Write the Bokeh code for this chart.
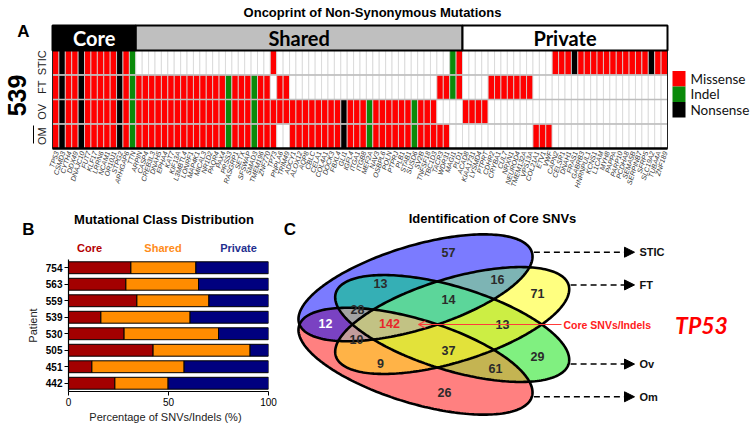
import numpy as np
from bokeh.plotting import figure
from bokeh.models import (Range1d, FactorRange, Arrow, NormalHead, OpenHead,
                          FixedTicker, ColumnDataSource)
from bokeh.layouts import column, row
from bokeh.core.properties import value
from bokeh.embed import file_html
from bokeh.resources import INLINE

# ---------------- data: panel A (oncoprint, patient 539) ----------------
core_genes = ["TP53", "CSMD3", "CYTH4", "DDX49", "DNAJC10", "FUT7", "KLF17", "LRRN6",
              "NCAM1", "OR10J1", "STPG2", "ARHGAP6", "TTN"]
shared_genes = ["ARPIN", "CASP4", "CREB3L3", "DNAH5", "EPHA4", "KAT7", "KIF13A", "L3MBTL4",
                "LONRF1", "MAP4K1", "MICAL3", "NR1D2", "PAQR4", "PAX4", "PRSS3", "RASGRP1",
                "SETX", "SFSWAP", "SMAD3", "TMEM196", "ZNF770", "TP73", "PNPLA6", "TRIM49",
                "ADCY1", "ALOX12", "AQP8", "CBLC", "CELA1", "COL4A1", "DOCK3", "FBXL4",
                "GLI1", "IGFL4", "ITGA1", "ITGB8", "MEF2A", "NAV3", "OSBPL6", "POLN",
                "PTPRJ", "PLB1", "STAB1", "SUSD6", "SV2B", "TNFSF18", "TBC1D3", "TACR3",
                "WDR31", "MAGI1", "PLD1"]
private_genes = ["ACAD8", "KIAA1731", "LYSMD4", "PTPRT", "CDHR2", "CRYBA1", "CUL7", "NRXN1",
                 "NEUROD4", "TMEM132A", "VPS13A", "COL21A1", "ETV1", "VWF", "CAPN2", "CELSR1",
                 "DNAH1", "FRAS1", "GABRB3", "HNRNPUL1", "KCNS1", "L1CAM", "MYH8", "PAPPA",
                 "PARP10", "PCDHA8", "SEMA5B", "SERPINB7", "SFRP5", "SLC19A2", "TUBA4A", "ZNF189"]
genes = core_genes + shared_genes + private_genes
class_names = ["Core", "Shared", "Private"]
class_sizes = [len(core_genes), len(shared_genes), len(private_genes)]

samples = ["STIC", "FT", "OV", "OM"]
# M = missense, I = indel, N = nonsense, . = none
core_calls = "MNMMNMMMMMNMI"
calls = {
    "STIC": core_calls + "." * 21 + "M" + "." * 27 + "IM"
            + "." * 14 + "MMMNMMMMMMMMMMMNMM",
    "FT": core_calls + "M" * 14 + "I" + "MMM" + "I" + "MM" + "." + "MM" + "." * 23 + "MM" + "I" + "M"
          + "...." + "M" * 7 + "." * 21,
    "OV": core_calls + "M" * 14 + "I" + "MMM" + "I" + "M" * 13 + "N" + "MMM" + "I" + "M" * 6 + "I" + "MMM" + "...."
          + "MMMM" + "." * 28,
    "OM": core_calls + "M" * 14 + "I" + "MMM" + "I" + "MMM" + ".." + "M" * 8 + "N" + "MMM" + "I" + "M" * 6 + "I" + "M" * 5 + ".."
          + "." * 11 + "MMM" + "." * 18,
}
for s in samples:
    assert len(calls[s]) == len(genes), (s, len(calls[s]))
mut_types = ["Missense", "Indel", "Nonsense"]
mut_codes = {"M": "#FF0000", "I": "#0A8A0A", "N": "#000000", ".": "#FFFFFF"}

# ---------------- data: panel B ----------------
patients = ["754", "563", "559", "539", "530", "505", "451", "442"]
core_pct = [31.2, 28.7, 34.2, 16.2, 27.8, 42.3, 11.7, 23.2]
shared_pct = [32.5, 36.3, 36.0, 44.6, 47.2, 48.5, 46.1, 26.6]
private_pct = [100 - c - s for c, s in zip(core_pct, shared_pct)]

# ---------------- data: panel C (Venn) ----------------
venn_sets = ["STIC", "FT", "Ov", "Om"]
venn_counts = {
    (1, 0, 0, 0): 57, (0, 1, 0, 0): 71, (0, 0, 1, 0): 29, (0, 0, 0, 1): 26,
    (1, 1, 0, 0): 16, (1, 0, 1, 0): 13, (1, 0, 0, 1): 12, (0, 1, 1, 0): 13,
    (0, 1, 0, 1): 9, (0, 0, 1, 1): 61, (1, 1, 1, 0): 14, (1, 1, 0, 1): 10,
    (1, 0, 1, 1): 28, (0, 1, 1, 1): 37, (1, 1, 1, 1): 142,
}

ARIAL = value("Liberation Sans")
CALIBRI = value("Lato")

# =============== Panel A figure (page y 0..200) ===============
W = 754
TOP_H = 200
w_col = 615 / len(genes)
row_h = 24.5


def px(xp):
    return (xp - 52) / w_col


def py(yp):
    return 4 - (yp - 50) / row_h


pt = figure(width=W, height=TOP_H, x_range=Range1d(px(0), px(W)), y_range=Range1d(py(TOP_H), py(0)),
            output_backend="svg", toolbar_location=None, min_border=0,
            x_axis_location=None, y_axis_location=None)
pt.grid.visible = False
pt.outline_line_color = None

cx, cy, cc = [], [], []
for r, s in enumerate(samples):
    for i, code in enumerate(calls[s]):
        cx.append(i + 0.5)
        cy.append(len(samples) - r - 0.5)
        cc.append(mut_codes[code])
pt.rect(x=cx, y=cy, width=1, height=1, fill_color=cc, line_color="#D6D6D6", line_width=0.8)
n = len(genes)
pt.segment(x0=[0] * 3, y0=[1, 2, 3], x1=[n] * 3, y1=[1, 2, 3], line_color="#BDBDBD", line_width=1.6)
pt.rect(x=n / 2, y=2, width=n, height=4, fill_color=None, line_color="#222222", line_width=1)
pt.segment(x0=[0], y0=[0], x1=[n], y1=[0], line_color="black", line_width=2.5)

# class header
starts = np.cumsum([0] + class_sizes[:-1])
hx = [s0 + sz / 2 for s0, sz in zip(starts, class_sizes)]
hh = (50 - 25) / row_h
hy = 4 + hh / 2
pt.rect(x=hx, y=hy, width=class_sizes, height=hh, fill_color=["#000000", "#BFBFBF", "#FFFFFF"],
        line_color="black", line_width=2)
pt.text(x=hx, y=hy, text=class_names, text_color=["white", "black", "black"], text_font=CALIBRI,
        text_font_style="bold", text_font_size="20px", text_align="center", text_baseline="middle")

# gene labels
pt.text(x=np.arange(n) + 0.65, y=py(151), text=genes, angle=np.deg2rad(72), text_align="right",
        text_baseline="middle", text_font=ARIAL, text_font_style="italic", text_font_size="7px",
        text_color="#333333")

# sample labels
pt.text(x=px(41), y=[len(samples) - r - 0.5 for r in range(len(samples))], text=samples,
        angle=np.pi / 2, text_align="center", text_baseline="middle", text_font=ARIAL,
        text_font_size="11px", text_color="#222222")
pt.text(x=[px(16)], y=[py(95)], text=["539"], angle=np.pi / 2, text_align="center",
        text_baseline="middle", text_font=ARIAL, text_font_style="bold", text_font_size="25px")
pt.segment(x0=[px(33)], y0=[py(125)], x1=[px(33)], y1=[py(143)], line_color="black", line_width=1)
pt.text(x=[px(23)], y=[py(31)], text=["A"], text_align="center", text_baseline="middle",
        text_font=ARIAL, text_font_style="bold", text_font_size="17px")
pt.text(x=[px(372)], y=[py(12)], text=["Oncoprint of Non-Synonymous Mutations"], text_align="center",
        text_baseline="middle", text_font=ARIAL, text_font_style="bold", text_font_size="13px")

# legend
leg_y = [78.3, 93.8, 109.3]
pt.rect(x=px(678.5), y=[py(v) for v in leg_y], width=13 / w_col, height=15.5 / row_h,
        fill_color=[mut_codes["M"], mut_codes["I"], mut_codes["N"]], line_color=None)
pt.text(x=px(690), y=[py(v) for v in leg_y], text=mut_types, text_align="left", text_baseline="middle",
        text_font=CALIBRI, text_font_size="13.5px", text_color="#111111")

# =============== Panel B (page x 0..278) ===============
B_W = 278
HEAD_H = 55          # page y 200..255
CHART_H = 430 - TOP_H - HEAD_H

ph = figure(width=B_W, height=HEAD_H, x_range=Range1d(0, B_W), y_range=Range1d(-(TOP_H + HEAD_H), -TOP_H),
            output_backend="svg", toolbar_location=None, min_border=0,
            x_axis_location=None, y_axis_location=None)
ph.grid.visible = False
ph.outline_line_color = None
ph.text(x=[163.5], y=[-219], text=["Mutational Class Distribution"], text_align="center",
        text_baseline="middle", text_font=ARIAL, text_font_style="bold", text_font_size="13px")
ph.text(x=[28], y=[-229], text=["B"], text_align="center", text_baseline="middle",
        text_font=ARIAL, text_font_style="bold", text_font_size="17px")
ph.text(x=[89, 162.5, 238], y=[-247] * 3, text=class_names,
        text_color=["#B40000", "#FF8C1A", "#1F2F8F"], text_align="center", text_baseline="middle",
        text_font=ARIAL, text_font_style="bold", text_font_size="11px")

pb = figure(width=B_W, height=CHART_H, x_range=Range1d(0, 100), y_range=FactorRange(factors=patients[::-1]),
            output_backend="svg", toolbar_location=None, min_border_left=68, min_border_right=10,
            min_border_top=4, min_border_bottom=39)
src = ColumnDataSource(dict(patient=patients, core=core_pct, shared=shared_pct, private=private_pct))
pb.hbar_stack(["core", "shared", "private"], y="patient", height=0.72,
              color=["#A30000", "#FF8C00", "#00007F"], line_color="black", line_width=1, source=src)
pb.grid.visible = False
pb.outline_line_color = None
pb.xaxis.ticker = FixedTicker(ticks=[0, 50, 100])
pb.xaxis.axis_label = "Percentage of  SNVs/Indels  (%)"
pb.yaxis.axis_label = "Patient"
for ax in (pb.xaxis, pb.yaxis):
    ax.axis_line_color = "black"
    ax.axis_line_width = 1.2
    ax.major_tick_line_color = "black"
    ax.major_tick_out = 4
    ax.major_tick_in = 0
    ax.minor_tick_line_color = None
    ax.major_label_text_font = "Liberation Sans"
    ax.major_label_text_font_size = "10px"
    ax.major_label_text_color = "black"
    ax.axis_label_text_font = "Liberation Sans"
    ax.axis_label_text_font_size = "11px"
    ax.axis_label_text_font_style = "normal"
    ax.axis_label_text_color = "#222222"
pb.yaxis.major_label_text_font_style = "bold"
pb.xaxis.major_label_standoff = 2
pb.xaxis.axis_label_standoff = 2
pb.yaxis.major_label_standoff = 2
pb.yaxis.axis_label_standoff = 4

# =============== Panel C (page x 278..754, y 200..430) ===============
C_W = W - B_W
X0 = B_W
pc = figure(width=C_W, height=430 - TOP_H, x_range=Range1d(X0, W), y_range=Range1d(-430, -TOP_H),
            output_backend="svg", toolbar_location=None, min_border=0,
            x_axis_location=None, y_axis_location=None)
pc.grid.visible = False
pc.outline_line_color = None

A_AX, B_AX, TH = 121.7, 41.7, np.deg2rad(17)
ell_cx = [415.0, 451.7, 451.7, 415.0]
ell_cy = [-287.3, -320.0, -328.0, -360.7]
ell_ang = [TH, TH, -TH, -TH]

region_colors = {
    (1, 0, 0, 0): "#7B7BFF", (0, 1, 0, 0): "#FFFF80", (0, 0, 1, 0): "#80F080", (0, 0, 0, 1): "#FF8080",
    (1, 0, 0, 1): "#7A42C2", (1, 0, 1, 0): "#35AFB5", (1, 1, 0, 0): "#7DB4B4", (1, 1, 1, 0): "#5CD69A",
    (1, 0, 1, 1): "#A3A3A3", (1, 1, 0, 1): "#C29C9C", (1, 1, 1, 1): "#C2C284", (0, 1, 1, 0): "#CCEE44",
    (0, 1, 1, 1): "#E2E23A", (0, 1, 0, 1): "#FFB347", (0, 0, 1, 1): "#C4B452",
}


def inside(xx, yy, cx0, cy0, ang):
    dx, dy = xx - cx0, yy - cy0
    c, s = np.cos(ang), np.sin(ang)
    u = dx * c + dy * s
    v = -dx * s + dy * c
    return (u / A_AX) ** 2 + (v / B_AX) ** 2 <= 1


gx0, gx1, gy0, gy1, res = 290.0, 590.0, -415.0, -230.0, 0.5
gxs = np.arange(gx0, gx1, res) + res / 2
gys = np.arange(gy0, gy1, res) + res / 2
XX, YY = np.meshgrid(gxs, gys)
masks = [inside(XX, YY, a, b, t) for a, b, t in zip(ell_cx, ell_cy, ell_ang)]
img = np.zeros(XX.shape, dtype=np.uint32)
view = img.view(dtype=np.uint8).reshape(XX.shape + (4,))
for key, col in region_colors.items():
    m = np.ones(XX.shape, dtype=bool)
    for k, mk in zip(key, masks):
        m &= mk if k else ~mk
    view[m] = [int(col[1:3], 16), int(col[3:5], 16), int(col[5:7], 16), 255]
pc.image_rgba(image=[img], x=gx0, y=gy0, dw=gx1 - gx0, dh=gy1 - gy0)

# ellipse outlines as polylines (parametric)
tt = np.linspace(0, 2 * np.pi, 241)
oxs, oys = [], []
for ex, ey, ea in zip(ell_cx, ell_cy, ell_ang):
    oxs.append(ex + A_AX * np.cos(tt) * np.cos(ea) - B_AX * np.sin(tt) * np.sin(ea))
    oys.append(ey + A_AX * np.cos(tt) * np.sin(ea) + B_AX * np.sin(tt) * np.cos(ea))
pc.multi_line(xs=oxs, ys=oys, line_color="black", line_width=2.6)

label_pos = {
    (1, 0, 0, 0): (448, 252), (0, 1, 0, 0): (537, 293), (0, 0, 1, 0): (537, 356), (0, 0, 0, 1): (444, 392),
    (1, 1, 0, 0): (497, 279), (1, 0, 1, 0): (380, 283), (1, 0, 0, 1): (325, 323), (0, 1, 1, 0): (502, 324),
    (0, 1, 0, 1): (380, 363), (0, 0, 1, 1): (495, 368), (1, 1, 1, 0): (448, 299), (1, 1, 0, 1): (356, 339),
    (1, 0, 1, 1): (357, 309), (0, 1, 1, 1): (448, 350), (1, 1, 1, 1): (389, 323),
}
vx, vy, vt, vc = [], [], [], []
for key, cnt in venn_counts.items():
    x_, y_ = label_pos[key]
    vx.append(x_)
    vy.append(-y_)
    vt.append(str(cnt))
    vc.append("white" if key == (1, 0, 0, 1) else ("#E8262A" if key == (1, 1, 1, 1) else "#2B2B2B"))
pc.text(x=vx, y=vy, text=vt, text_color=vc, text_align="center", text_baseline="middle",
        text_font=ARIAL, text_font_style="bold", text_font_size="12.5px")

# set arrows from ellipse tips
for name, ex, ey, ea in zip(venn_sets, ell_cx, ell_cy, ell_ang):
    tx = ex + A_AX * np.cos(ea) + 2
    ty = ey + A_AX * np.sin(ea)
    pc.add_layout(Arrow(end=NormalHead(size=10, fill_color="black", line_color="black"),
                        x_start=tx, y_start=ty, x_end=634, y_end=ty, line_color="black",
                        line_width=1.5, line_dash="6 4"))
    pc.text(x=[639], y=[ty], text=[name], text_align="left", text_baseline="middle", text_font=ARIAL,
            text_font_style="bold", text_font_size="11px", text_color="#111111")

pc.add_layout(Arrow(end=OpenHead(size=7, line_color="#FF3B3B", line_width=1.2), x_start=561, y_start=-324,
                    x_end=418, y_end=-324, line_color="#FF3B3B", line_width=1.2))
pc.text(x=[563], y=[-324], text=["Core SNVs/Indels"], text_align="left", text_baseline="middle",
        text_font=ARIAL, text_font_style="bold", text_font_size="10.5px", text_color="#FF2020")
pc.text(x=[701], y=[-324], text=["TP53"], text_align="center", text_baseline="middle",
        text_font=CALIBRI, text_font_style="bold italic", text_font_size="23px", text_color="#FF0000")
pc.text(x=[492], y=[-218], text=["Identification of Core SNVs"], text_align="center", text_baseline="middle",
        text_font=ARIAL, text_font_style="bold", text_font_size="13px")
pc.text(x=[289.5], y=[-229], text=["C"], text_align="center", text_baseline="middle",
        text_font=ARIAL, text_font_style="bold", text_font_size="17px")

layout = column(pt, row(column(row(ph), pb), pc))
open("out.html", "w").write(file_html(layout, INLINE))
